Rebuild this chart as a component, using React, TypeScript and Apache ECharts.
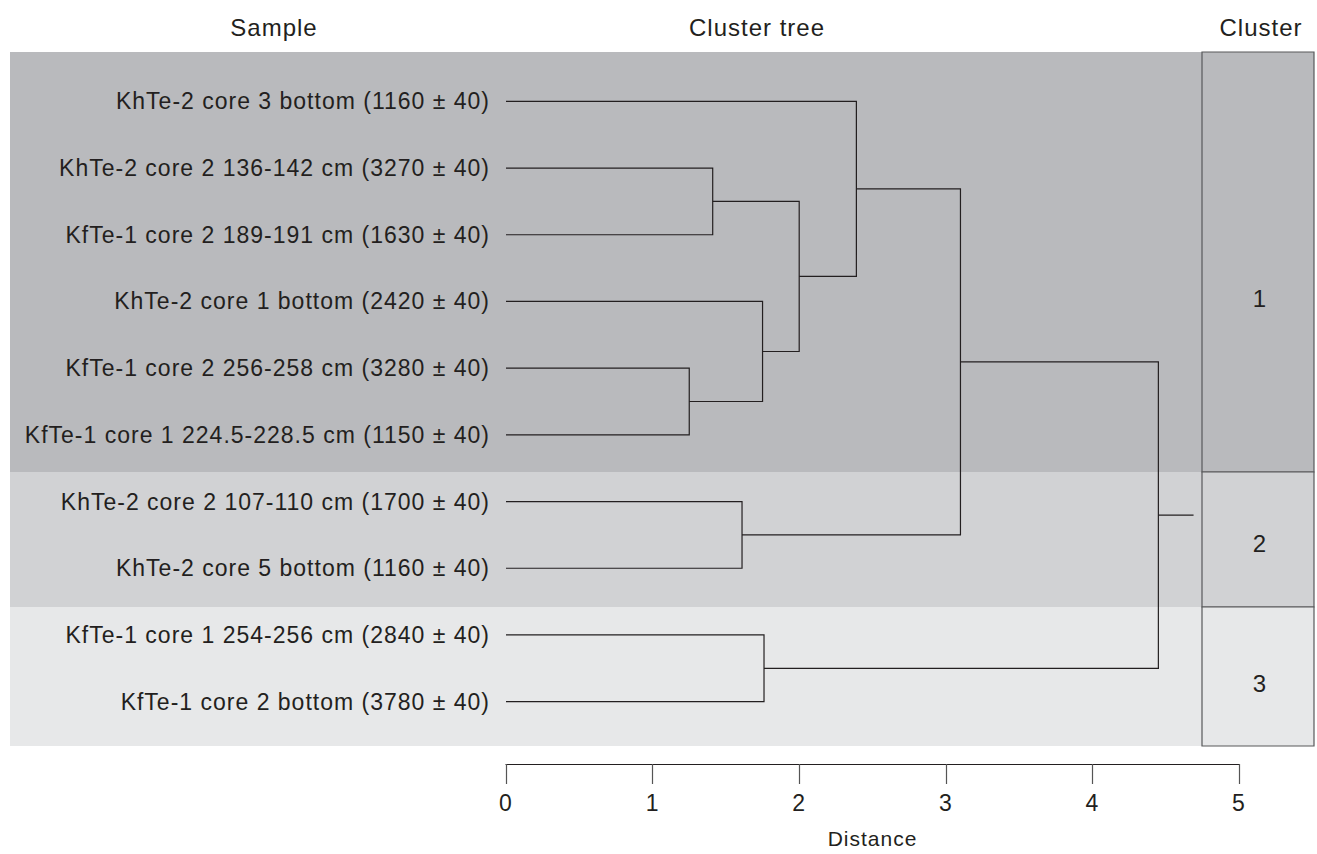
import React, { useEffect, useRef } from "react";
import * as echarts from "echarts";

// ---- Data ----
const samples: string[] = [
  "KhTe-2 core 3 bottom (1160 ± 40)",
  "KhTe-2 core 2 136-142 cm (3270 ± 40)",
  "KfTe-1 core 2 189-191 cm (1630 ± 40)",
  "KhTe-2 core 1 bottom (2420 ± 40)",
  "KfTe-1 core 2 256-258 cm (3280 ± 40)",
  "KfTe-1 core 1 224.5-228.5 cm (1150 ± 40)",
  "KhTe-2 core 2 107-110 cm (1700 ± 40)",
  "KhTe-2 core 5 bottom (1160 ± 40)",
  "KfTe-1 core 1 254-256 cm (2840 ± 40)",
  "KfTe-1 core 2 bottom (3780 ± 40)",
];

// merges: node ids 0..9 are leaves; merge k creates node 10+k
const mergeLeft: number[] = [1, 4, 3, 10, 0, 6, 8, 14, 17];
const mergeRight: number[] = [2, 5, 11, 12, 13, 7, 9, 15, 16];
const mergeHeight: number[] = [1.41, 1.25, 1.75, 2.0, 2.39, 1.61, 1.76, 3.1, 4.45];
const rootStubEnd = 4.69;

const distanceTicks: number[] = [0, 1, 2, 3, 4, 5];
const clusterLabels: string[] = ["1", "2", "3"];

// ---- Styles ----
const FONT = "'Liberation Sans', Arial, Helvetica, sans-serif";
const TEXT = "#231f20";
const LINE = "#231f20";
const bandColors = ["#b9babd", "#d1d2d4", "#e7e8e9"];
// band pixel edges (top, bottom) for clusters
const bandEdges = [52, 472, 607, 746];
const clusterLabelY = [298, 543, 683];

function buildSegments() {
  const nodeY: number[] = samples.map((_, i) => i);
  const nodeH: number[] = samples.map(() => 0);
  const segs: { coords: number[][] }[] = [];
  for (let k = 0; k < mergeLeft.length; k++) {
    const a = mergeLeft[k];
    const b = mergeRight[k];
    const h = mergeHeight[k];
    segs.push({
      coords: [
        [nodeH[a], nodeY[a]],
        [h, nodeY[a]],
        [h, nodeY[b]],
        [nodeH[b], nodeY[b]],
      ],
    });
    nodeY.push((nodeY[a] + nodeY[b]) / 2);
    nodeH.push(h);
  }
  const root = nodeY.length - 1;
  segs.push({
    coords: [
      [nodeH[root], nodeY[root]],
      [rootStubEnd, nodeY[root]],
    ],
  });
  return segs;
}

export default function App() {
  const ref = useRef<HTMLDivElement>(null);
  useEffect(() => {
    if (!ref.current) return;
    const chart = echarts.init(ref.current, undefined, { renderer: "svg" });

    const graphics: any[] = [];
    for (let c = 0; c < 3; c++) {
      graphics.push({
        type: "rect",
        z: -10,
        silent: true,
        shape: { x: 10, y: bandEdges[c], width: 1192, height: bandEdges[c + 1] - bandEdges[c] },
        style: { fill: bandColors[c] },
      });
      graphics.push({
        type: "rect",
        z: -5,
        silent: true,
        shape: { x: 1202, y: bandEdges[c], width: 112, height: bandEdges[c + 1] - bandEdges[c] },
        style: { fill: bandColors[c], stroke: "#58595b", lineWidth: 1.2 },
      });
      graphics.push({
        type: "text",
        z: 10,
        x: 1260,
        y: clusterLabelY[c],
        style: {
          text: clusterLabels[c],
          fill: TEXT,
          font: `24px ${FONT}`,
          align: "center",
          verticalAlign: "middle",
        },
      });
    }
    const headers: [string, number][] = [
      ["Sample", 274],
      ["Cluster tree", 757],
      ["Cluster", 1261],
    ];
    headers.forEach(([t, x]) =>
      graphics.push({
        type: "text",
        z: 10,
        x,
        y: 27,
        style: { text: t, fill: TEXT, font: `24px ${FONT}`, align: "center", verticalAlign: "middle" },
      })
    );

    chart.setOption({
      animation: false,
      backgroundColor: "#ffffff",
      grid: { left: 506, width: 733, top: 68, height: 673, containLabel: false },
      xAxis: {
        type: "value",
        min: 0,
        max: 5,
        interval: 1,
        position: "bottom",
        offset: 29,
        splitLine: { show: false },
        axisLine: { show: true, onZero: false, lineStyle: { color: LINE, width: 1.2 } },
        axisTick: { show: true, length: 20, lineStyle: { color: "#555", width: 1.2 } },
        axisLabel: {
          margin: 27,
          color: TEXT,
          fontSize: 23,
          fontFamily: FONT,
          formatter: (v: number) => (distanceTicks.includes(v) ? String(v) : ""),
        },
        name: "Distance",
        nameLocation: "middle",
        nameGap: 64,
        nameTextStyle: { color: TEXT, fontSize: 21, fontFamily: FONT },
      },
      yAxis: [
        {
          type: "category",
          inverse: true,
          data: samples,
          axisLine: { show: false },
          axisTick: { show: false },
          splitLine: { show: false },
          axisLabel: { margin: 16, color: TEXT, fontSize: 23, fontFamily: FONT },
        },
        {
          type: "value",
          inverse: true,
          min: -0.5,
          max: 9.5,
          show: false,
          position: "left",
        },
      ],
      series: [
        {
          type: "lines",
          coordinateSystem: "cartesian2d",
          xAxisIndex: 0,
          yAxisIndex: 1,
          polyline: true,
          silent: true,
          z: 5,
          lineStyle: { color: LINE, width: 1.2, opacity: 1 },
          data: buildSegments(),
        },
      ],
      graphic: graphics,
    });
    return () => chart.dispose();
  }, []);
  return (
    <>
      <style>{`.dendro-chart svg text { letter-spacing: 1px; }`}</style>
      <div
        ref={ref}
        className="dendro-chart"
        style={{ position: "absolute", left: 0, top: 0, width: 1317, height: 854, background: "#fff" }}
      />
    </>
  );
}
